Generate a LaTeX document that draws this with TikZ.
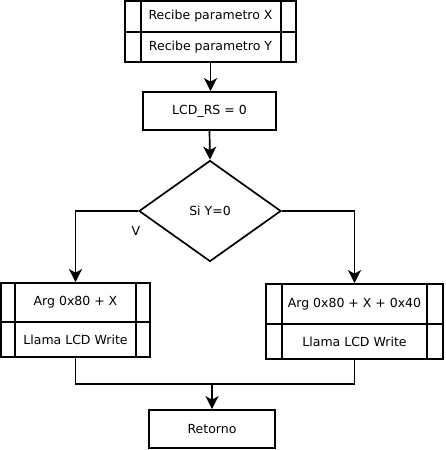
\documentclass[tikz,border=0pt]{standalone}
\usepackage{fontspec}
\setmainfont{DejaVu Sans}
\usetikzlibrary{shapes.geometric,arrows.meta}
\begin{document}
\begin{tikzpicture}[x=1pt,y=-1pt,
  every node/.style={font=\fontsize{12.5}{15}\selectfont},
  lw/.style={line width=1.7pt},
  box/.style={draw,lw,rectangle,inner sep=0pt},
  arr/.style={lw,-{Stealth[length=13pt,width=13pt,inset=3.5pt]}},
  ln/.style={lw}]
\useasboundingbox (0,0) rectangle (445,450);
% top predefined process
\node[box,minimum width=171pt,minimum height=31pt] (t1) at (210.5,16.5) {Recibe parametro X};
\node[box,minimum width=171pt,minimum height=30pt] (t2) at (210.5,47) {Recibe parametro Y};
\draw[ln] ([xshift=17pt]t1.north west) -- ([xshift=17pt]t2.south west);
\draw[ln] ([xshift=-16pt]t1.north east) -- ([xshift=-16pt]t2.south east);
% LCD_RS
\node[box,minimum width=133pt,minimum height=38pt] (lcd) at (209.5,111) {LCD\_RS = 0};
% decision
\node[draw,lw,shape=diamond,inner sep=0pt,minimum width=142pt,minimum height=101pt] (d) at (210,211) {Si Y=0};
\node (v) at (136,231) {V};
% left
\node[box,minimum width=149pt,minimum height=39pt] (l1) at (75.5,302.5) {Arg 0x80 + X};
\node[box,minimum width=149pt,minimum height=35pt] (l2) at (75.5,339.5) {Llama LCD Write};
\draw[ln] ([xshift=15pt]l1.north west) -- ([xshift=15pt]l2.south west);
\draw[ln] ([xshift=-15pt]l1.north east) -- ([xshift=-15pt]l2.south east);
% right
\node[box,minimum width=177pt,minimum height=40pt] (r1) at (354.5,304) {Arg 0x80 + X + 0x40};
\node[box,minimum width=177pt,minimum height=35pt] (r2) at (354.5,341.5) {Llama LCD Write};
\draw[ln] ([xshift=17pt]r1.north west) -- ([xshift=17pt]r2.south west);
\draw[ln] ([xshift=-17pt]r1.north east) -- ([xshift=-17pt]r2.south east);
% return
\node[box,minimum width=126pt,minimum height=38pt] (ret) at (212,429) {Retorno};
\coordinate (m) at (212,384);
% connectors
\draw[arr] (t2.south) -- (t2.south |- lcd.north);
\draw[arr] (lcd.south) -- (d.north);
\draw[arr] (d.west) -| (l1.north);
\draw[arr] (d.east) -| (r1.north);
\draw[ln] (l2.south) |- (m) -| (r2.south);
\draw[arr] (m) -- (ret.north);
\end{tikzpicture}
\end{document}
